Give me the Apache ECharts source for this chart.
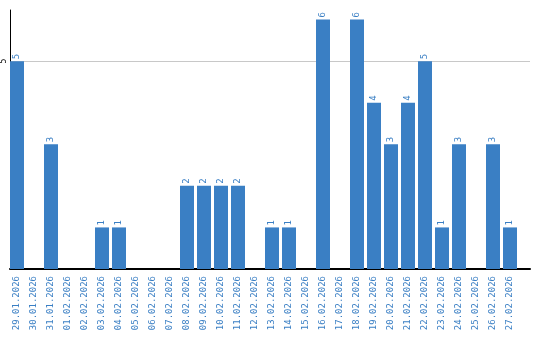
<!DOCTYPE html>
<html><head><meta charset="utf-8">
<script src="https://cdn.jsdelivr.net/npm/echarts@6/dist/echarts.min.js"></script>
<style>html,body{margin:0;padding:0;background:#fff}#c{width:540px;height:340px}</style>
</head><body><div id="c"></div>
<script>
const categories = ["29.01.2026","30.01.2026","31.01.2026","01.02.2026","02.02.2026","03.02.2026","04.02.2026","05.02.2026","06.02.2026","07.02.2026","08.02.2026","09.02.2026","10.02.2026","11.02.2026","12.02.2026","13.02.2026","14.02.2026","15.02.2026","16.02.2026","17.02.2026","18.02.2026","19.02.2026","20.02.2026","21.02.2026","22.02.2026","23.02.2026","24.02.2026","25.02.2026","26.02.2026","27.02.2026"];
const values = [5,0,3,0,0,1,1,0,0,0,2,2,2,2,0,1,1,0,6,0,6,4,3,4,5,1,3,0,3,1];
const yTicks = [5];
const blue = '#3a7fc4';
const yMax = 6.23;
const chart = echarts.init(document.getElementById('c'));
chart.setOption({
  animation: false,
  grid: [
    {left: 10, right: 10, top: 10, bottom: 71},
    {left: 8.5, width: 510, top: 10, bottom: 71}
  ],
  xAxis: [{
    gridIndex: 0, type: 'value', min: 0, max: 1,
    axisLine: {show: true, onZero: false, lineStyle: {color: '#000', width: 2}},
    axisTick: {show: false}, axisLabel: {show: false}, splitLine: {show: false}
  }, {
    gridIndex: 1, type: 'category', data: categories,
    axisLine: {show: false},
    axisTick: {show: false},
    axisLabel: {rotate: 90, interval: 0, color: blue, fontFamily: 'DejaVu Sans Mono', fontSize: 9, margin: 7}
  }],
  yAxis: [{
    gridIndex: 0, type: 'value', min: 0, max: yMax, interval: 5,
    axisLine: {show: true, lineStyle: {color: '#000', width: 1}},
    axisTick: {show: false},
    splitLine: {show: true, showMinLine: false, showMaxLine: false, lineStyle: {color: '#c8c8c8'}},
    axisLabel: {
      rotate: 90, color: '#000', fontFamily: 'DejaVu Sans Mono', fontSize: 8, margin: 2,
      formatter: v => yTicks.includes(v) ? String(v) : ''
    }
  }, {
    gridIndex: 1, type: 'value', min: 0, max: yMax, show: false
  }],
  series: [{
    type: 'bar', xAxisIndex: 1, yAxisIndex: 1,
    data: values.map(v => v === 0 ? null : v),
    barWidth: 14,
    itemStyle: {color: blue},
    label: {show: true, position: 'top', rotate: 90, align: 'left', verticalAlign: 'middle',
      distance: 2, color: blue, fontFamily: 'DejaVu Sans Mono', fontSize: 9}
  }]
});
</script></body></html>
